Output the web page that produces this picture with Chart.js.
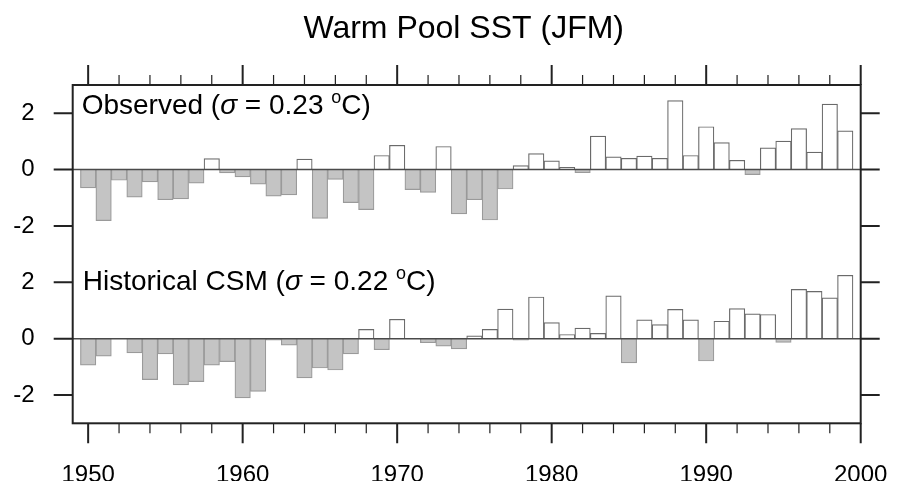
<!DOCTYPE html>
<html>
<head>
<meta charset="utf-8">
<script src="https://cdn.jsdelivr.net/npm/chart.js@4.4.1/dist/chart.umd.min.js"></script>
<style>
  html, body { margin: 0; padding: 0; background: #fff; }
  #wrap { width: 904px; height: 481px; }
</style>
</head>
<body>
<div id="wrap"><canvas id="grafico" width="904" height="481"></canvas></div>
<script>
    /*      DATOS      */
    var years = [1950, 1951, 1952, 1953, 1954, 1955, 1956, 1957, 1958, 1959,
                 1960, 1961, 1962, 1963, 1964, 1965, 1966, 1967, 1968, 1969,
                 1970, 1971, 1972, 1973, 1974, 1975, 1976, 1977, 1978, 1979,
                 1980, 1981, 1982, 1983, 1984, 1985, 1986, 1987, 1988, 1989,
                 1990, 1991, 1992, 1993, 1994, 1995, 1996, 1997, 1998, 1999];

    var observed = [-0.65, -1.81, -0.38, -0.98, -0.44, -1.07, -1.04, -0.48, 0.39, -0.12,
                    -0.26, -0.52, -0.94, -0.90, 0.37, -1.73, -0.35, -1.17, -1.42, 0.50,
                    0.86, -0.71, -0.81, 0.82, -1.57, -1.07, -1.79, -0.69, 0.14, 0.57,
                    0.31, 0.08, -0.11, 1.19, 0.45, 0.40, 0.48, 0.40, 2.45, 0.50,
                    1.52, 0.96, 0.33, -0.18, 0.77, 1.01, 1.45, 0.62, 2.32, 1.37];

    var historical = [-0.94, -0.62, 0.00, -0.50, -1.45, -0.54, -1.64, -1.52, -0.94, -0.81,
                      -2.10, -1.87, -0.05, -0.23, -1.39, -1.04, -1.11, -0.54, 0.33, -0.39,
                      0.69, 0.00, -0.14, -0.26, -0.36, 0.10, 0.33, 1.05, -0.05, 1.48,
                      0.57, 0.15, 0.38, 0.19, 1.52, -0.86, 0.67, 0.50, 1.04, 0.67,
                      -0.79, 0.62, 1.07, 0.88, 0.86, -0.13, 1.75, 1.68, 1.45, 2.25];

    var yTicks = [-2, 0, 2];
    var xTicks = [1950, 1960, 1970, 1980, 1990, 2000];

    var titulo = 'Warm Pool SST (JFM)';
    var etiquetaObs = ['Observed (', '\u03c3', ' = 0.23 ', 'o', 'C)'];
    var etiquetaCsm = ['Historical CSM (', '\u03c3', ' = 0.22 ', 'o', 'C)'];

    var fuente = '"Liberation Sans", Arial, Helvetica, sans-serif';

    function colorRelleno(ctx) {
        return ctx.raw && ctx.raw.y < 0 ? '#c4c4c4' : '#ffffff';
    }
    function colorBorde(ctx) {
        return ctx.raw && ctx.raw.y < 0 ? '#9a9a9a' : '#6a6a6a';
    }

    function serie(valores, eje) {
        return {
            data: years.map(function(y, i) { return { x: y, y: valores[i] }; }),
            yAxisID: eje,
            backgroundColor: colorRelleno,
            borderColor: colorBorde,
            borderWidth: 1.2,
            borderSkipped: 'start',
            barPercentage: 1,
            categoryPercentage: 1,
            grouped: false
        };
    }

    function ejeY() {
        return {
            type: 'linear',
            position: 'left',
            stack: 'paneles',
            stackWeight: 1,
            min: -3,
            max: 3,
            grid: { display: false, drawTicks: false },
            border: { display: false },
            ticks: {
                padding: 38,
                color: '#000',
                font: { family: fuente, size: 24 },
                callback: function(v) { return String(v); }
            },
            afterBuildTicks: function(s) {
                s.ticks = yTicks.map(function(v) { return { value: v }; });
            },
            afterFit: function(s) { s.width = 72.7; }
        };
    }

    // dibuja marco, lineas de cero, marcas de ejes y textos
    var marco = {
        id: 'marco',
        afterDatasetsDraw: function(chart) {
            var ctx = chart.ctx;
            var a = chart.chartArea;
            var sx = chart.scales.x;
            ctx.save();
            ['yTop', 'yBottom'].forEach(function(id) {
                var s = chart.scales[id];
                var y0 = s.getPixelForValue(0);
                ctx.strokeStyle = '#4a4a4a';
                ctx.lineWidth = 1.5;
                ctx.beginPath();
                ctx.moveTo(a.left, y0);
                ctx.lineTo(a.right, y0);
                ctx.stroke();
                ctx.strokeStyle = '#222';
                ctx.lineWidth = 2;
                yTicks.forEach(function(v) {
                    var py = s.getPixelForValue(v);
                    ctx.beginPath();
                    ctx.moveTo(a.left - 19, py);
                    ctx.lineTo(a.left, py);
                    ctx.moveTo(a.right, py);
                    ctx.lineTo(a.right + 19, py);
                    ctx.stroke();
                });
            });
            for (var v = 1950; v <= 2000; v += 2) {
                var px = sx.getPixelForValue(v);
                var mayor = v % 10 === 0;
                var largo = mayor ? 20 : 10;
                ctx.strokeStyle = '#222';
                ctx.lineWidth = mayor ? 2 : 1.2;
                ctx.beginPath();
                ctx.moveTo(px, a.top - largo);
                ctx.lineTo(px, a.top);
                ctx.moveTo(px, a.bottom);
                ctx.lineTo(px, a.bottom + largo);
                ctx.stroke();
            }
            ctx.strokeStyle = '#222';
            ctx.lineWidth = 2;
            ctx.strokeRect(a.left, a.top, a.right - a.left, a.bottom - a.top);
            ctx.restore();
        },
        afterDraw: function(chart) {
            var ctx = chart.ctx;
            var a = chart.chartArea;
            ctx.save();
            ctx.fillStyle = '#000';
            ctx.textBaseline = 'alphabetic';
            ctx.textAlign = 'center';
            ctx.font = '32px ' + fuente;
            ctx.fillText(titulo, (a.left + a.right) / 2 - 3, 38);

            ctx.textAlign = 'left';
            escribir(ctx, etiquetaObs, a.left + 9, chart.scales.yTop.getPixelForValue(2) + 1);
            escribir(ctx, etiquetaCsm, a.left + 10, chart.scales.yBottom.getPixelForValue(2) + 8);
            ctx.restore();
        }
    };

    function escribir(ctx, partes, x, y) {
        var estilos = [
            { f: '28px ' + fuente, dy: 0 },
            { f: 'italic 28px ' + fuente, dy: 0 },
            { f: '28px ' + fuente, dy: 0 },
            { f: '18px ' + fuente, dy: -11 },
            { f: '28px ' + fuente, dy: 0 }
        ];
        partes.forEach(function(t, i) {
            ctx.font = estilos[i].f;
            ctx.fillText(t, x, y + estilos[i].dy);
            x += ctx.measureText(t).width;
        });
    }

    var ctx = document.getElementById('grafico').getContext('2d');
    var myChart = new Chart(ctx, {
        type: 'bar',
        data: {
            datasets: [serie(historical, 'yBottom'), serie(observed, 'yTop')]
        },
        options: {
            responsive: false,
            animation: false,
            layout: { padding: { left: 0, right: 43.3, top: 85, bottom: 0 } },
            plugins: {
                legend: { display: false },
                title: { display: false },
                tooltip: { enabled: false }
            },
            scales: {
                x: {
                    type: 'linear',
                    position: 'bottom',
                    offset: false,
                    min: 1949,
                    max: 2000,
                    grid: { display: false, drawTicks: false, offset: false },
                    border: { display: false },
                    ticks: {
                        autoSkip: false,
                        maxRotation: 0,
                        padding: 38,
                        color: '#000',
                        font: { family: fuente, size: 24 },
                        callback: function(v) { return String(v); }
                    },
                    afterBuildTicks: function(s) {
                        s.ticks = xTicks.map(function(v) { return { value: v }; });
                    },
                    afterFit: function(s) {
                        s.height = 57.7;
                        s.paddingLeft = 0;
                        s.paddingRight = 0;
                    }
                },
                yBottom: ejeY(),
                yTop: ejeY()
            }
        },
        plugins: [marco]
    });
</script>
</body>
</html>
